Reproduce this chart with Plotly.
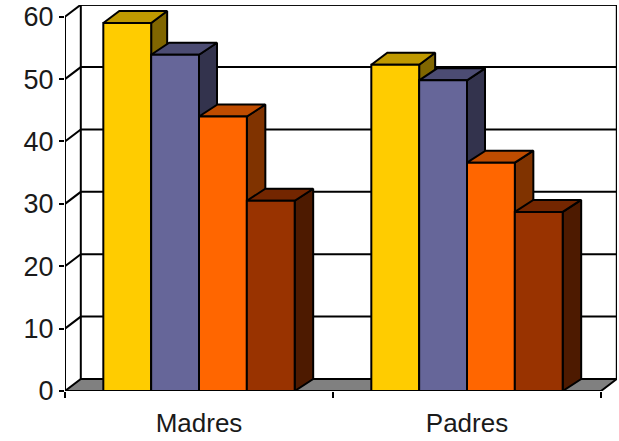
import plotly.graph_objects as go

categories = ["Madres", "Padres"]
serie_1 = [59.0, 52.3]
serie_2 = [53.9, 49.8]
serie_3 = [44.0, 36.6]
serie_4 = [30.5, 28.7]
y_ticks = [0, 10, 20, 30, 40, 50, 60]

series = [serie_1, serie_2, serie_3, serie_4]
front = ["#FFCC00", "#666699", "#FF6600", "#993300"]
top = ["#BF9900", "#4C4C73", "#BF4C00", "#732600"]
side = ["#806600", "#33334D", "#803300", "#4D1A00"]

W, H = 619, 441
L, R, T, B = 65, 2, 5, 50
CAT_PX = 268.0
UNIT_PX = (391 - 16.7) / 60
DX = 15.8 / CAT_PX
DY = 12.0 / UNIT_PX
BAR_DX = [d / CAT_PX for d in (16.0, 18.0, 18.5, 18.5)]
BAR_W = 0.1785
BAR_START = 0.143
N = len(categories)
LW = 2
INK = "#000000"

fig = go.Figure()


def poly(xs, ys, fill=None):
    fig.add_trace(go.Scatter(
        x=xs, y=ys, mode="lines", cliponaxis=False, hoverinfo="skip",
        line=dict(color=INK, width=LW),
        fill="toself" if fill else None, fillcolor=fill,
        showlegend=False))


ymax = y_ticks[-1]
# floor
poly([0, N, N + DX, DX, 0], [0, 0, DY, DY, 0], "#808080")
# walls and grid lines
poly([DX, DX, N + DX, N + DX], [DY, ymax + DY, ymax + DY, DY])
poly([0, 0], [0, ymax])
for v in y_ticks[1:-1]:
    poly([0, DX, N + DX], [v, v + DY, v + DY])
poly([0, DX], [ymax, ymax + DY])
poly([DX, N + DX], [ymax + DY, ymax + DY])

# bars, back faces first, left to right
for c in range(N):
    for s, vals in enumerate(series):
        v = vals[c]
        d = BAR_DX[s]
        x0 = c + BAR_START + s * BAR_W
        x1 = x0 + BAR_W
        poly([x1, x1 + d, x1 + d, x1, x1], [0, DY, v + DY, v, 0], side[s])
        poly([x0, x1, x1 + d, x0 + d, x0], [v, v, v + DY, v + DY, v], top[s])
        poly([x0, x1, x1, x0, x0], [0, 0, v, v, 0], front[s])

# front bottom edge on top of the bars
poly([0, N], [0, 0])

font = dict(family="Liberation Sans, Arial, sans-serif", size=26, color="#1a1a1a")
yfont = dict(family="Liberation Sans, Arial, sans-serif", size=27, color="#1a1a1a")
fig.update_layout(
    width=W, height=H, autosize=False,
    margin=dict(l=L, r=R, t=T, b=B, pad=0),
    paper_bgcolor="white", plot_bgcolor="white", showlegend=False,
    xaxis=dict(
        range=[0, (W - L - R) / CAT_PX], showgrid=False, zeroline=False, showline=False,
        tickmode="array", tickvals=[i + 0.5 for i in range(N)], ticktext=categories,
        ticks="", tickfont=font, ticklabelstandoff=14,
        minor=dict(tickmode="array", tickvals=list(range(N + 1)), ticks="outside",
                   ticklen=6, tickwidth=LW, tickcolor=INK, showgrid=False),
    ),
    yaxis=dict(
        range=[0, (H - T - B) / UNIT_PX], showgrid=False, zeroline=False, showline=False,
        tickmode="array", tickvals=y_ticks, ticks="outside", ticklen=5,
        tickwidth=LW, tickcolor=INK, tickfont=yfont,
    ),
)
fig.write_html("out.html", config={"displayModeBar": False},
               post_script="document.body.style.margin='0';")
